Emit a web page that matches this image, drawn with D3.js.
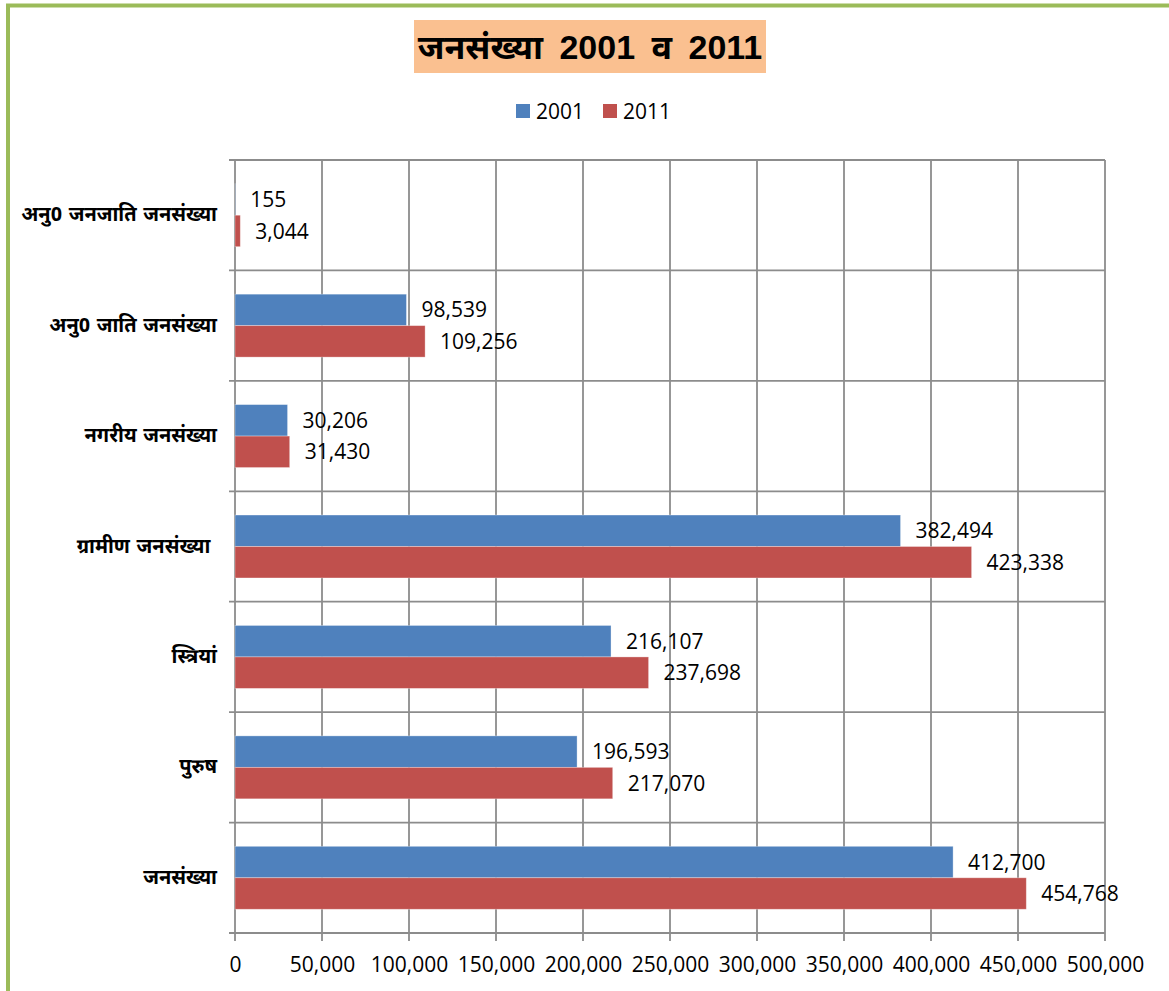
<!DOCTYPE html>
<html>
<head>
<meta charset="utf-8">
<script src="https://cdn.jsdelivr.net/npm/d3@7"></script>
<style>
	body { margin: 0; background: #fff; }
	svg { display: block; }
	.num { font-family: "Open Sans", "Noto Sans", sans-serif; font-size: 21px; fill: #000; }
	.cat { font-family: "Noto Sans Devanagari", "Lohit Devanagari", "Mangal", "Noto Sans", sans-serif; font-size: 20px; font-weight: bold; fill: #000; white-space: pre; word-spacing: 1.5px; }
</style>
</head>
<body>
<div id="chart"></div>
<script>
	// categories top to bottom, as in the picture
	var categories = ["अनु0 जनजाति जनसंख्या", "अनु0 जाति जनसंख्या", "नगरीय जनसंख्या", "ग्रामीण जनसंख्या ", "स्त्रियां", "पुरुष", "जनसंख्या"];
	var series = ["2001", "2011"];
	var values2001 = [155, 98539, 30206, 382494, 216107, 196593, 412700];
	var values2011 = [3044, 109256, 31430, 423338, 237698, 217070, 454768];
	var xTicks = [0, 50000, 100000, 150000, 200000, 250000, 300000, 350000, 400000, 450000, 500000];
	var colors = ["#4F81BD", "#C0504D"];
	var title = "जनसंख्या 2001 व 2011";

	var width = 1169, height = 991;
	var margin = {top: 160, right: 64, bottom: 58, left: 235};

	var svg = d3.select("#chart").append("svg")
		.attr("width", width)
		.attr("height", height);

	// green frame
	svg.append("rect")
		.attr("x", 8).attr("y", 5.5)
		.attr("width", 1300).attr("height", 1200)
		.attr("fill", "none")
		.attr("stroke", "#9BBB59")
		.attr("stroke-width", 4);

	var x = d3.scaleLinear().domain([0, 500000]).range([margin.left, width - margin.right]);
	var y = d3.scaleBand().domain(categories).range([margin.top, height - margin.bottom])
		.paddingInner(0.43).paddingOuter(0.215);
	var ySub = d3.scaleBand().domain(series).range([0, y.bandwidth()]);

	var step = y.step();
	var y0 = margin.top, y1 = height - margin.bottom;

	// vertical gridlines (with tick marks below axis)
	svg.append("g").selectAll("line")
		.data(xTicks)
		.join("line")
		.attr("x1", function(d) { return x(d); })
		.attr("x2", function(d) { return x(d); })
		.attr("y1", y0)
		.attr("y2", y1 + 8)
		.attr("stroke", "#8c8c8c")
		.attr("stroke-width", 1.8);

	// horizontal category boundaries
	var bounds = d3.range(categories.length + 1);
	svg.append("g").selectAll("line")
		.data(bounds)
		.join("line")
		.attr("x1", x(0) - 6)
		.attr("x2", x(500000))
		.attr("y1", function(i) { return y0 + i * step; })
		.attr("y2", function(i) { return y0 + i * step; })
		.attr("stroke", "#8c8c8c")
		.attr("stroke-width", 1.8);

	// x axis labels
	var xAxis = d3.axisBottom(x).tickValues(xTicks).tickSize(0).tickPadding(24)
		.tickFormat(d3.format(","));
	var gx = svg.append("g")
		.attr("transform", "translate(0," + y1 + ")")
		.call(xAxis);
	gx.select(".domain").remove();
	gx.selectAll("text").attr("class", "num").attr("font-size", null).attr("font-family", null);

	// category labels
	var yAxis = d3.axisLeft(y).tickSize(0).tickPadding(18);
	var gy = svg.append("g")
		.attr("transform", "translate(" + x(0) + ",0)")
		.call(yAxis);
	gy.select(".domain").remove();
	gy.selectAll("text").attr("class", "cat").attr("font-size", null).attr("font-family", null).attr("dy", "0.3em");

	var rows = categories.map(function(c, i) {
		return {cat: c, vals: [values2001[i], values2011[i]]};
	});

	var groups = svg.append("g").selectAll("g")
		.data(rows)
		.join("g")
		.attr("transform", function(d) { return "translate(0," + y(d.cat) + ")"; });

	groups.selectAll("rect")
		.data(function(d) { return d.vals.map(function(v, j) { return {s: series[j], v: v, j: j}; }); })
		.join("rect")
		.attr("x", x(0))
		.attr("y", function(d) { return ySub(d.s); })
		.attr("width", function(d) { return x(d.v) - x(0); })
		.attr("height", ySub.bandwidth())
		.attr("fill", function(d) { return colors[d.j]; })
		.attr("stroke", "#ffffff")
		.attr("stroke-opacity", 0.4)
		.attr("stroke-width", 0.8);

	groups.selectAll("text")
		.data(function(d) { return d.vals.map(function(v, j) { return {s: series[j], v: v, j: j}; }); })
		.join("text")
		.attr("class", "num")
		.attr("x", function(d) { return x(d.v) + 15; })
		.attr("y", function(d) { return ySub(d.s) + ySub.bandwidth() / 2; })
		.attr("dy", "0.36em")
		.text(function(d) { return d3.format(",")(d.v); });

	// title box
	var tg = svg.append("g");
	tg.append("rect")
		.attr("x", 414).attr("y", 20)
		.attr("width", 352).attr("height", 53)
		.attr("fill", "#FAC090");
	tg.append("text")
		.attr("x", 590).attr("y", 47)
		.attr("dy", "0.36em")
		.attr("text-anchor", "middle")
		.attr("font-family", "\"Liberation Sans\", Arial, \"Noto Sans Devanagari\", sans-serif")
		.attr("font-size", 34)
		.attr("font-weight", "bold")
		.attr("word-spacing", 7)
		.text(title);

	// legend
	var legX = [516, 603];
	var leg = svg.append("g").selectAll("g")
		.data(series)
		.join("g")
		.attr("transform", function(d, i) { return "translate(" + legX[i] + ",104)"; });
	leg.append("rect")
		.attr("width", 14).attr("height", 14)
		.attr("fill", function(d, i) { return colors[i]; });
	leg.append("text")
		.attr("class", "num")
		.attr("x", 20).attr("y", 7)
		.attr("dy", "0.36em")
		.text(function(d) { return d; });
</script>
</body>
</html>
